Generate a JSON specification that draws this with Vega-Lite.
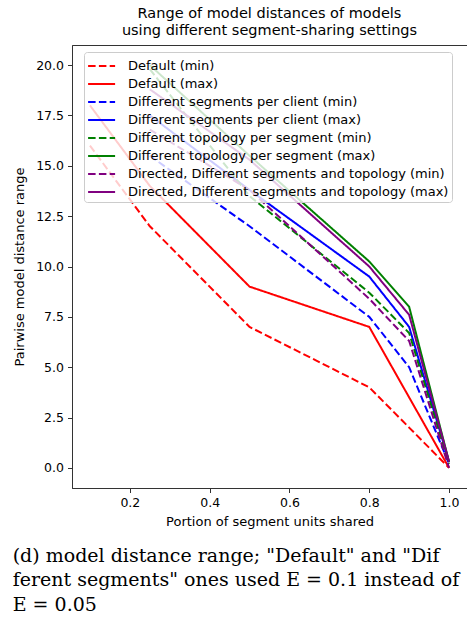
{
  "$schema": "https://vega.github.io/schema/vega-lite/v6.json",
  "padding": {"left": 12, "top": 5, "right": 0, "bottom": 0},
  "background": "white",
  "title": {
    "text": ["(d) model distance range; \"Default\" and \"Dif", "ferent segments\" ones used E = 0.1 instead of", "E = 0.05"],
    "orient": "bottom",
    "anchor": "start",
    "frame": "bounds",
    "font": "DejaVu Serif",
    "fontSize": 19,
    "fontWeight": "normal",
    "color": "black",
    "lineHeight": 24.5,
    "offset": 18
  },
  "vconcat": [
    {
      "title": {
        "text": ["Range of model distances of models", "using different segment-sharing settings"],
        "font": "DejaVu Sans",
        "fontSize": 14.5,
        "fontWeight": "normal",
        "color": "black",
        "anchor": "middle",
        "lineHeight": 17,
        "offset": 7
      },
      "width": 395,
      "height": 443,
      "data": {
        "values": [
          {"series": "Default (min)", "x": 0.1, "y": 16.0},
          {"series": "Default (min)", "x": 0.25, "y": 12.0},
          {"series": "Default (min)", "x": 0.5, "y": 7.0},
          {"series": "Default (min)", "x": 0.8, "y": 4.0},
          {"series": "Default (min)", "x": 0.9, "y": 2.0},
          {"series": "Default (min)", "x": 1.0, "y": 0.0},
          {"series": "Default (max)", "x": 0.1, "y": 18.0},
          {"series": "Default (max)", "x": 0.25, "y": 14.0},
          {"series": "Default (max)", "x": 0.5, "y": 9.0},
          {"series": "Default (max)", "x": 0.8, "y": 7.0},
          {"series": "Default (max)", "x": 0.9, "y": 3.5},
          {"series": "Default (max)", "x": 1.0, "y": 0.0},
          {"series": "Different segments per client (min)", "x": 0.25, "y": 15.5},
          {"series": "Different segments per client (min)", "x": 0.5, "y": 12.0},
          {"series": "Different segments per client (min)", "x": 0.8, "y": 7.5},
          {"series": "Different segments per client (min)", "x": 0.9, "y": 5.0},
          {"series": "Different segments per client (min)", "x": 1.0, "y": 0.2},
          {"series": "Different segments per client (max)", "x": 0.25, "y": 17.5},
          {"series": "Different segments per client (max)", "x": 0.5, "y": 13.8},
          {"series": "Different segments per client (max)", "x": 0.8, "y": 9.5},
          {"series": "Different segments per client (max)", "x": 0.9, "y": 7.0},
          {"series": "Different segments per client (max)", "x": 1.0, "y": 0.3},
          {"series": "Different topology per segment (min)", "x": 0.25, "y": 19.8},
          {"series": "Different topology per segment (min)", "x": 0.5, "y": 13.5},
          {"series": "Different topology per segment (min)", "x": 0.8, "y": 8.7},
          {"series": "Different topology per segment (min)", "x": 0.9, "y": 6.7},
          {"series": "Different topology per segment (min)", "x": 1.0, "y": 0.2},
          {"series": "Different topology per segment (max)", "x": 0.25, "y": 20.0},
          {"series": "Different topology per segment (max)", "x": 0.5, "y": 15.5},
          {"series": "Different topology per segment (max)", "x": 0.8, "y": 10.25},
          {"series": "Different topology per segment (max)", "x": 0.9, "y": 8.0},
          {"series": "Different topology per segment (max)", "x": 1.0, "y": 0.3},
          {"series": "Directed, Different segments and topology (min)", "x": 0.25, "y": 16.8},
          {"series": "Directed, Different segments and topology (min)", "x": 0.5, "y": 13.8},
          {"series": "Directed, Different segments and topology (min)", "x": 0.8, "y": 8.4},
          {"series": "Directed, Different segments and topology (min)", "x": 0.9, "y": 6.3},
          {"series": "Directed, Different segments and topology (min)", "x": 1.0, "y": 0.0},
          {"series": "Directed, Different segments and topology (max)", "x": 0.25, "y": 18.8},
          {"series": "Directed, Different segments and topology (max)", "x": 0.5, "y": 15.3},
          {"series": "Directed, Different segments and topology (max)", "x": 0.8, "y": 10.0},
          {"series": "Directed, Different segments and topology (max)", "x": 0.9, "y": 7.6},
          {"series": "Directed, Different segments and topology (max)", "x": 1.0, "y": 0.3}
        ]
      },
      "mark": {"type": "line", "strokeWidth": 2, "clip": true},
      "encoding": {
        "x": {
          "field": "x",
          "type": "quantitative",
          "scale": {"domain": [0.055, 1.045], "nice": false, "zero": false},
          "axis": {"values": [0.2, 0.4, 0.6, 0.8, 1.0], "format": ".1f", "title": "Portion of segment units shared"}
        },
        "y": {
          "field": "y",
          "type": "quantitative",
          "scale": {"domain": [-1, 21], "nice": false, "zero": false},
          "axis": {"values": [0, 2.5, 5, 7.5, 10, 12.5, 15, 17.5, 20], "format": ".1f", "title": "Pairwise model distance range"}
        },
        "color": {
          "field": "series",
          "type": "nominal",
          "sort": null,
          "scale": {
            "domain": [
              "Default (min)", "Default (max)",
              "Different segments per client (min)", "Different segments per client (max)",
              "Different topology per segment (min)", "Different topology per segment (max)",
              "Directed, Different segments and topology (min)", "Directed, Different segments and topology (max)"
            ],
            "range": ["#ff0000", "#ff0000", "#0000ff", "#0000ff", "#008000", "#008000", "#800080", "#800080"]
          },
          "legend": {
            "title": null,
            "orient": "none",
            "legendX": 12,
            "legendY": 7,
            "symbolType": "M-0.99,0H1.71",
            "symbolSize": 400,
            "symbolStrokeWidth": 2,
            "labelFont": "DejaVu Sans",
            "labelFontSize": 13,
            "labelColor": "black",
            "labelOffset": 19,
            "labelLimit": 400,
            "rowPadding": 0,
            "padding": 3,
            "strokeColor": "#cccccc",
            "fillColor": "rgba(255,255,255,0.8)",
            "cornerRadius": 3
          }
        },
        "strokeDash": {
          "field": "series",
          "type": "nominal",
          "sort": null,
          "scale": {
            "domain": [
              "Default (min)", "Default (max)",
              "Different segments per client (min)", "Different segments per client (max)",
              "Different topology per segment (min)", "Different topology per segment (max)",
              "Directed, Different segments and topology (min)", "Directed, Different segments and topology (max)"
            ],
            "range": [[7.5, 3.3], [1, 0], [7.5, 3.3], [1, 0], [7.5, 3.3], [1, 0], [7.5, 3.3], [1, 0]]
          },
          "legend": {
            "title": null,
            "orient": "none",
            "legendX": 12,
            "legendY": 7,
            "symbolType": "M-0.99,0H1.71",
            "symbolSize": 400,
            "symbolStrokeWidth": 2,
            "labelFont": "DejaVu Sans",
            "labelFontSize": 13,
            "labelColor": "black",
            "labelOffset": 19,
            "labelLimit": 400,
            "rowPadding": 0,
            "padding": 3,
            "strokeColor": "#cccccc",
            "fillColor": "rgba(255,255,255,0.8)",
            "cornerRadius": 3
          }
        }
      }
    }
  ],
  "config": {
    "view": {"stroke": "#333333", "strokeWidth": 1},
    "axis": {
      "grid": false,
      "domainColor": "#333333",
      "tickColor": "#333333",
      "tickSize": 4.5,
      "labelFont": "DejaVu Sans",
      "labelFontSize": 12.5,
      "labelColor": "black",
      "labelPadding": 4,
      "titleFont": "DejaVu Sans",
      "titleFontSize": 13,
      "titleFontWeight": "normal",
      "titleColor": "black"
    },
    "axisX": {"titlePadding": 6},
    "axisY": {"titlePadding": 9.5}
  }
}
